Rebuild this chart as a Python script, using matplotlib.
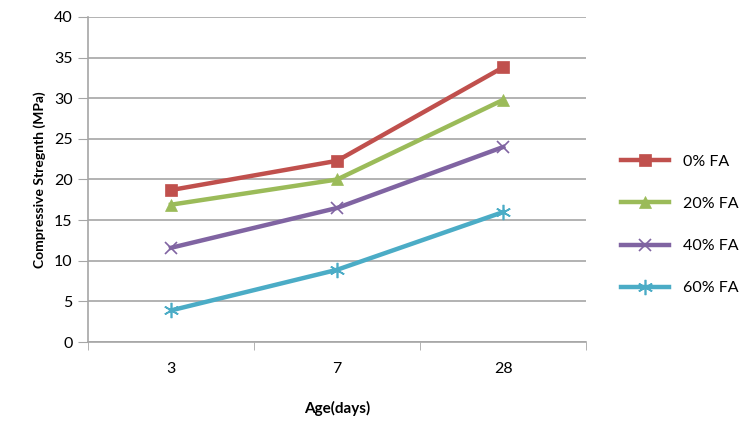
import numpy as np
import matplotlib.pyplot as plt

plt.rcParams['font.family'] = ['Lato', 'DejaVu Sans']

ages = ['3', '7', '28']
fa_0 = [18.7, 22.3, 33.8]
fa_20 = [16.9, 20.0, 29.8]
fa_40 = [11.6, 16.5, 24.0]
fa_60 = [3.9, 8.9, 16.0]

series = [
    ('0% FA', fa_0, '#C0504D', 's', 9),
    ('20% FA', fa_20, '#9BBB59', '^', 9),
    ('40% FA', fa_40, '#8064A2', 'x', 9),
    ('60% FA', fa_60, '#4BACC6', (6, 2, 0), 11),
]

fig = plt.figure(figsize=(7.45, 4.32), dpi=100)
ax = fig.add_axes([0.118, 0.208, 0.669, 0.753])

x = np.arange(len(ages))
for name, vals, col, mk, ms in series:
    ax.plot(x, vals, color=col, lw=3.2, marker=mk, markersize=ms,
            markeredgewidth=1.2 if mk in ('x', (6, 2, 0)) else 0.5,
            markeredgecolor=col, label=name, zorder=3)

ax.set_xlim(-0.5, len(ages) - 0.5)
ax.set_ylim(0, 40)
ax.set_yticks(np.arange(0, 41, 5))
ax.yaxis.grid(True, color='#a6a6a6', lw=1.2)
ax.set_axisbelow(True)

# categories are labelled at their centres, ticks sit on the boundaries
ax.set_xticks(x)
ax.set_xticklabels(ages)
ax.set_xticks(np.arange(-0.5, len(ages), 1.0), minor=True)
ax.tick_params(axis='x', which='major', length=0, pad=14, labelsize=11.5)
ax.tick_params(axis='x', which='minor', length=6, color='#a6a6a6', direction='out')
ax.tick_params(axis='y', length=7, color='#a6a6a6', labelsize=11.5, pad=4)

for s in ('top', 'right'):
    ax.spines[s].set_visible(False)
for s in ('left', 'bottom'):
    ax.spines[s].set_color('#a6a6a6')
    ax.spines[s].set_linewidth(1.2)

ax.set_xlabel('Age(days)', fontsize=11, fontweight='bold', labelpad=18)
ax.set_ylabel('Compressive Stregnth (MPa)', fontsize=10, fontweight='bold', labelpad=6)

ax.legend(loc='center left', bbox_to_anchor=(1.04, 0.36), frameon=False,
          fontsize=11.5, handlelength=3, labelspacing=1.75, handletextpad=0.9)

fig.savefig('out.png', dpi=100)
